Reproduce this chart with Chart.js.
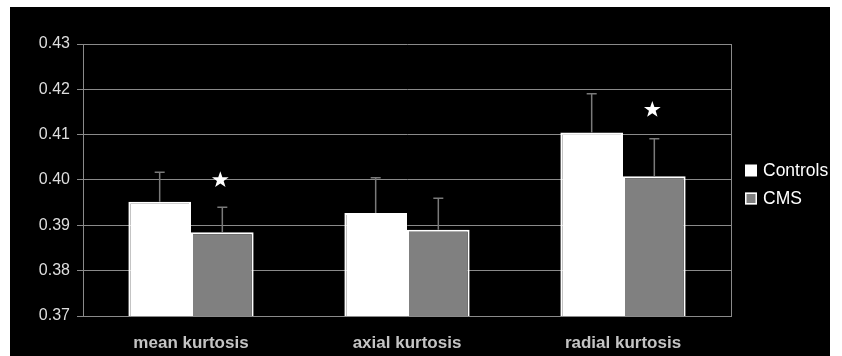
<!DOCTYPE html>
<html>
<head>
<meta charset="utf-8">
<script src="https://cdn.jsdelivr.net/npm/chart.js@4/dist/chart.umd.min.js"></script>
<style>
  html, body { margin: 0; padding: 0; background: #ffffff; }
  #wrap { position: relative; width: 842px; height: 356px; }
</style>
</head>
<body>
<div id="wrap"><canvas id="c" width="842" height="356"></canvas></div>
<script>
// Diffusion kurtosis metrics by group
const categories = ['mean kurtosis', 'axial kurtosis', 'radial kurtosis'];
const controlsMean = [0.3952, 0.3927, 0.4105];
const controlsErr  = [0.0065, 0.0078, 0.0085];
const cmsMean      = [0.3885, 0.3890, 0.4008];
const cmsErr       = [0.0055, 0.0070, 0.0083];
// significance markers above the CMS bars (null = none)
const cmsStars     = [0.4000, null, 0.4155];
const yTicks       = [0.37, 0.38, 0.39, 0.40, 0.41, 0.42, 0.43];

const FONT = "'Liberation Sans', Arial, Helvetica, sans-serif";
const GRID = '#8a8a8a';

// Black panel behind the chart
const panel = {
  id: 'panel',
  beforeDraw(chart) {
    const ctx = chart.ctx;
    ctx.save();
    ctx.fillStyle = '#ffffff';
    ctx.fillRect(0, 0, chart.width, chart.height);
    ctx.fillStyle = '#000000';
    ctx.fillRect(10, 7, 820, 349);
    ctx.restore();
  }
};

function drawStar(ctx, cx, cy, R) {
  const r = R * 0.4;
  ctx.beginPath();
  for (let k = 0; k < 10; k++) {
    const rad = k % 2 === 0 ? R : r;
    const a = -Math.PI / 2 + k * Math.PI / 5;
    const px = cx + rad * Math.cos(a), py = cy + rad * Math.sin(a);
    if (k === 0) ctx.moveTo(px, py); else ctx.lineTo(px, py);
  }
  ctx.closePath();
  ctx.fill();
}

// Upward error bars and significance stars
const extras = {
  id: 'extras',
  afterDatasetsDraw(chart) {
    const ctx = chart.ctx;
    const y = chart.scales.y;
    const errs = [controlsErr, cmsErr];
    ctx.save();
    ctx.strokeStyle = '#7a7a7a';
    ctx.lineWidth = 1.5;
    chart.data.datasets.forEach((ds, i) => {
      const meta = chart.getDatasetMeta(i);
      meta.data.forEach((bar, j) => {
        const top = y.getPixelForValue(ds.data[j] + errs[i][j]);
        ctx.beginPath();
        ctx.moveTo(bar.x, bar.y);
        ctx.lineTo(bar.x, top);
        ctx.moveTo(bar.x - 5, top);
        ctx.lineTo(bar.x + 5, top);
        ctx.stroke();
      });
    });
    ctx.fillStyle = '#ffffff';
    const cmsMeta = chart.getDatasetMeta(1);
    cmsMeta.data.forEach((bar, j) => {
      if (cmsStars[j] == null) return;
      drawStar(ctx, bar.x - 2, y.getPixelForValue(cmsStars[j]), 8.8);
    });
    ctx.restore();
  }
};

// Legend at the right of the plot
const sideLegend = {
  id: 'sideLegend',
  afterDraw(chart) {
    const ctx = chart.ctx;
    const area = chart.chartArea;
    const x0 = area.right + 14;
    const rows = [170.5, 198.5];
    ctx.save();
    ctx.font = '17.5px ' + FONT;
    ctx.textBaseline = 'middle';
    chart.data.datasets.forEach((ds, i) => {
      const cy = rows[i];
      ctx.fillStyle = ds.backgroundColor;
      ctx.fillRect(x0, cy - 6, 12, 12);
      if (i === 1) {
        ctx.strokeStyle = '#ffffff';
        ctx.lineWidth = 1.5;
        ctx.strokeRect(x0 + 0.75, cy - 5.25, 10.5, 10.5);
      }
      ctx.fillStyle = '#ffffff';
      ctx.fillText(ds.label, x0 + 18, cy + 1);
    });
    ctx.restore();
  }
};

new Chart(document.getElementById('c'), {
  type: 'bar',
  data: {
    labels: categories,
    datasets: [
      {
        label: 'Controls',
        data: controlsMean,
        backgroundColor: '#ffffff',
        borderColor: '#ffffff',
        borderWidth: 2,
        borderSkipped: 'start'
      },
      {
        label: 'CMS',
        data: cmsMean,
        backgroundColor: '#808080',
        borderColor: '#ffffff',
        borderWidth: 2,
        borderSkipped: 'start'
      }
    ]
  },
  options: {
    responsive: false,
    animation: false,
    devicePixelRatio: 1,
    layout: { padding: { top: 44, right: 111, bottom: 0, left: 0 } },
    datasets: { bar: { barPercentage: 1.0, categoryPercentage: 0.58 } },
    plugins: {
      legend: { display: false },
      tooltip: { enabled: false }
    },
    scales: {
      x: {
        grid: { display: false },
        border: { display: true, color: GRID, width: 1 },
        ticks: {
          color: '#c4c4c4',
          padding: 9,
          font: { family: FONT, size: 17, weight: 'bold' }
        },
        afterFit(scale) { scale.height = 40; }
      },
      y: {
        min: 0.37,
        max: 0.43,
        afterBuildTicks(scale) { scale.ticks = yTicks.map(v => ({ value: v })); },
        grid: { color: GRID, lineWidth: 1, tickLength: 6, drawTicks: true },
        border: { display: true, color: GRID, width: 1 },
        ticks: {
          color: '#dedede',
          padding: 7,
          font: { family: FONT, size: 16 },
          callback: v => v.toFixed(2)
        },
        afterFit(scale) { scale.width = 83; }
      },
      y2: {
        position: 'right',
        min: 0.37,
        max: 0.43,
        grid: { display: false },
        border: { display: true, color: GRID, width: 1 },
        ticks: { display: false },
        afterFit(scale) { scale.width = 0; }
      }
    }
  },
  plugins: [panel, extras, sideLegend]
});
</script>
</body>
</html>
